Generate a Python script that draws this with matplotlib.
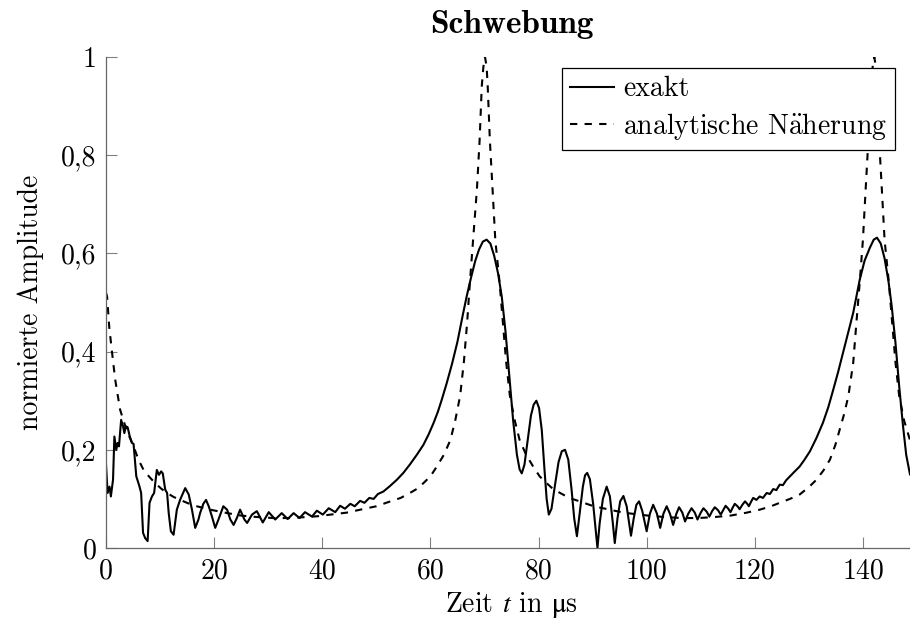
import matplotlib
matplotlib.use("Agg")
import matplotlib.pyplot as plt

plt.rcParams['font.family'] = ['cmr10', 'DejaVu Serif']
plt.rcParams['mathtext.fontset'] = 'cm'
plt.rcParams['font.size'] = 20
plt.rcParams['axes.unicode_minus'] = False

# exakte Lösung, Zeit in µs
t_exakt = [
    0.0, 0.3, 0.65, 0.9, 1.3, 1.55, 1.9, 2.15, 2.4, 2.8, 3.15, 3.4, 3.65, 4.0,
    4.4, 4.8, 5.1, 5.6, 6.2, 6.5, 6.85, 7.25, 7.7, 8.05, 8.5, 8.9, 9.4, 9.8,
    10.2, 10.5, 10.95, 11.3, 11.6, 12.0, 12.5, 13.1, 13.7, 14.65, 15.3, 15.9,
    16.5, 17.1, 17.4, 18.0, 18.5, 19.0, 19.6, 20.2, 20.8, 21.7, 22.4, 23.0,
    23.6, 24.2, 24.8, 25.6, 26.1, 27.0, 27.9, 29.0, 30.1, 31.3, 32.5, 33.6,
    34.7, 35.8, 36.8, 38.1, 39.0, 40.1, 41.2, 42.4, 43.3, 44.2, 45.2, 46.0,
    47.0, 47.8, 48.7, 49.5, 50.3, 51.3, 52.5, 53.8, 55.0, 56.2, 57.5, 58.7,
    59.7, 60.6, 61.4, 62.1, 63.0, 64.0, 65.0, 66.0, 66.7, 67.5, 68.3, 69.0,
    69.7, 70.4, 71.1, 71.8, 72.5, 73.2, 73.9, 74.6, 75.3, 76.0, 76.5, 76.9,
    77.4, 78.0, 78.6, 79.1, 79.6, 80.1, 80.6, 81.1, 81.5, 81.9, 82.4, 83.0,
    83.7, 84.3, 84.9, 85.5, 86.1, 86.6, 87.1, 87.6, 88.2, 88.6, 89.0, 89.5,
    90.1, 90.6, 90.9, 91.3, 91.9, 92.6, 93.2, 93.7, 94.1, 94.6, 95.1, 95.7,
    96.3, 96.7, 97.1, 97.6, 98.1, 98.6, 99.2, 100.0, 100.6, 101.2, 101.9,
    102.5, 103.1, 103.7, 104.3, 104.9, 105.5, 106.0, 106.6, 107.1, 107.7,
    108.3, 108.9, 109.4, 110.0, 110.5, 111.1, 111.6, 112.1, 112.6, 113.2,
    113.7, 114.2, 114.6, 115.1, 115.5, 115.9, 116.3, 116.8, 117.2, 117.7,
    118.2, 118.6, 118.9, 119.3, 119.7, 120.3, 120.9, 121.5, 122.2, 122.8,
    123.4, 124.0, 124.6, 125.2, 125.8, 126.5, 127.3, 128.3, 129.2, 130.2,
    131.4, 132.6, 133.6, 134.5, 135.4, 136.3, 137.3, 138.2, 139.4, 140.3,
    141.3, 142.0, 142.6, 143.3, 144.0, 144.7, 145.3, 146.0, 146.7, 147.4,
    148.0, 148.7,
]
a_exakt = [
    0.17, 0.112, 0.125, 0.105, 0.139, 0.227, 0.20, 0.214, 0.207, 0.261, 0.248,
    0.234, 0.248, 0.246, 0.227, 0.214, 0.212, 0.146, 0.125, 0.112, 0.031,
    0.020, 0.014, 0.092, 0.105, 0.112, 0.159, 0.149, 0.156, 0.152, 0.119,
    0.112, 0.071, 0.034, 0.027, 0.078, 0.098, 0.122, 0.109, 0.078, 0.041,
    0.058, 0.071, 0.090, 0.098, 0.085, 0.064, 0.041, 0.058, 0.085, 0.078,
    0.058, 0.047, 0.061, 0.078, 0.058, 0.051, 0.068, 0.075, 0.052, 0.073,
    0.058, 0.071, 0.059, 0.071, 0.061, 0.073, 0.064, 0.076, 0.068, 0.081,
    0.073, 0.086, 0.080, 0.090, 0.085, 0.096, 0.092, 0.102, 0.100, 0.110,
    0.115, 0.126, 0.139, 0.153, 0.170, 0.19, 0.21, 0.232, 0.255, 0.278, 0.302,
    0.335, 0.375, 0.42, 0.475, 0.512, 0.55, 0.585, 0.608, 0.624, 0.628, 0.62,
    0.595, 0.56, 0.512, 0.44, 0.35, 0.26, 0.19, 0.16, 0.152, 0.17, 0.22, 0.27,
    0.292, 0.300, 0.285, 0.24, 0.16, 0.10, 0.068, 0.08, 0.125, 0.175, 0.197,
    0.200, 0.18, 0.12, 0.06, 0.024, 0.07, 0.125, 0.148, 0.153, 0.14, 0.09,
    0.035, 0.0, 0.05, 0.10, 0.125, 0.105, 0.055, 0.010, 0.06, 0.095, 0.106,
    0.085, 0.055, 0.025, 0.06, 0.088, 0.095, 0.075, 0.034, 0.07, 0.088, 0.07,
    0.041, 0.07, 0.085, 0.07, 0.047, 0.07, 0.083, 0.072, 0.054, 0.07, 0.081,
    0.072, 0.058, 0.072, 0.081, 0.074, 0.064, 0.075, 0.083, 0.077, 0.068,
    0.078, 0.086, 0.08, 0.073, 0.082, 0.090, 0.085, 0.079, 0.088, 0.095, 0.09,
    0.085, 0.094, 0.102, 0.098, 0.105, 0.102, 0.112, 0.11, 0.12, 0.118, 0.129,
    0.128, 0.138, 0.146, 0.155, 0.166, 0.18, 0.197, 0.224, 0.255, 0.287,
    0.322, 0.358, 0.397, 0.44, 0.479, 0.546, 0.585, 0.612, 0.628, 0.632, 0.62,
    0.59, 0.545, 0.495, 0.42, 0.33, 0.25, 0.19, 0.15,
]

# analytische Näherung
t_naeh = [
    0.0, 0.2, 0.6, 1.1, 1.7, 2.6, 3.8, 5.1, 6.0, 6.95, 8.0, 9.1, 10.2, 11.3,
    12.5, 13.7, 15.2, 16.8, 19.3, 22.0, 25.0, 28.0, 31.0, 34.0, 37.0, 39.5,
    41.5, 44.5, 47.0, 50.0, 52.6, 54.5, 56.2, 57.6, 58.7, 60.0, 61.2, 62.5,
    63.7, 64.6, 65.5, 66.2, 66.8, 67.3, 67.9, 68.6, 69.1, 69.5, 69.8, 70.1,
    70.4, 70.6, 71.0, 71.5, 72.0, 72.8, 73.4, 74.0, 74.7, 75.6, 76.5, 77.7,
    79.0, 80.2, 81.5, 82.6, 84.0, 85.7, 87.6, 90.2, 93.2, 95.7, 98.7, 101.0,
    103.5, 106.5, 109.5, 112.5, 115.5, 118.5, 120.9, 123.0, 124.6, 126.5,
    128.3, 130.0, 131.4, 132.7, 133.9, 134.9, 135.7, 136.5, 137.3, 138.2,
    138.8, 139.4, 140.0, 140.5, 141.0, 141.4, 141.8, 142.1, 142.4, 142.6,
    143.0, 143.5, 144.0, 144.8, 145.4, 146.0, 146.7, 147.6, 148.7,
]
a_naeh = [
    0.52, 0.512, 0.45, 0.40, 0.343, 0.282, 0.24, 0.207, 0.18, 0.159, 0.145,
    0.132, 0.121, 0.112, 0.104, 0.098, 0.091, 0.085, 0.078, 0.072, 0.066,
    0.063, 0.061, 0.061, 0.063, 0.065, 0.068, 0.072, 0.078, 0.085, 0.095,
    0.102, 0.112, 0.121, 0.132, 0.146, 0.166, 0.19, 0.22, 0.26, 0.31, 0.38,
    0.46, 0.54, 0.628, 0.73, 0.83, 0.94, 0.98, 1.0, 0.98, 0.94, 0.83, 0.73,
    0.628, 0.54, 0.46, 0.38, 0.31, 0.26, 0.22, 0.19, 0.166, 0.146, 0.132,
    0.121, 0.112, 0.102, 0.095, 0.085, 0.078, 0.072, 0.068, 0.065, 0.063,
    0.061, 0.061, 0.063, 0.066, 0.072, 0.078, 0.085, 0.092, 0.100, 0.109,
    0.124, 0.139, 0.158, 0.18, 0.21, 0.241, 0.272, 0.309, 0.377, 0.46, 0.54,
    0.628, 0.73, 0.83, 0.94, 0.98, 1.0, 0.98, 0.94, 0.83, 0.73, 0.628, 0.54,
    0.46, 0.38, 0.31, 0.26, 0.22,
]

xticks = [0, 20, 40, 60, 80, 100, 120, 140]
yticks = [0, 0.2, 0.4, 0.6, 0.8, 1.0]
ytick_labels = ['0', '0,2', '0,4', '0,6', '0,8', '1']

fig = plt.figure(figsize=(9.1, 6.28), dpi=100)
ax = fig.add_axes([106 / 910, 80 / 628, 811 / 910, 491 / 628])

ax.plot(t_exakt, a_exakt, color='black', lw=1.5, label='exakt')
ax.plot(t_naeh, a_naeh, color='black', lw=1.5, dashes=(3.5, 3.5),
        label=r'analytische N$\ddot{\mathrm{a}}$herung')

ax.set_xlim(0, 150)
ax.set_ylim(0, 1)
ax.set_xticks(xticks)
ax.set_xticklabels([str(x) for x in xticks])
ax.set_yticks(yticks)
ax.set_yticklabels(ytick_labels)

for side in ('top', 'right'):
    ax.spines[side].set_visible(False)
for side in ('left', 'bottom'):
    ax.spines[side].set_color('0.4')
    ax.spines[side].set_linewidth(0.9)
ax.tick_params(direction='in', length=8, width=0.8, color='0.5', pad=7)

ax.set_title('Schwebung', family=['cmb10', 'DejaVu Serif'], pad=17)
# cmr10 hat kein aufrechtes mu, daher STIX für den Mathe-Teil
ax.set_xlabel(r'Zeit $t$ in $\mathrm{\mu}$s', labelpad=4,
              math_fontfamily='stix')
ax.set_ylabel('normierte Amplitude', labelpad=12)

leg = ax.legend(loc='upper right', bbox_to_anchor=(0.973, 0.978),
                fancybox=False, framealpha=1, edgecolor='black',
                handlelength=1.6, handletextpad=0.3, labelspacing=0.3,
                borderpad=0.3, borderaxespad=0)
leg.get_frame().set_linewidth(0.9)

fig.savefig('out.png', dpi=100)
